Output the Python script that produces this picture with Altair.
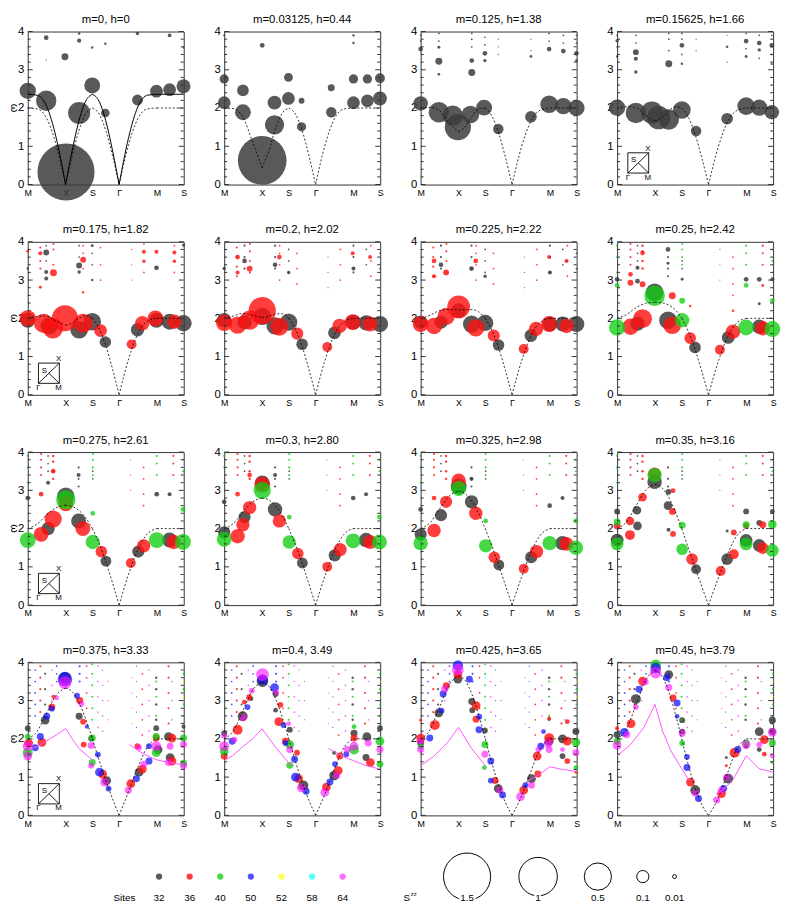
import altair as alt
import pandas as pd

FONT = "Liberation Sans"

# ---------------- axes ----------------
K_TICKS = [0.0, 1.414, 2.414, 3.414, 4.828, 5.828]
K_LABELS = ["M", "X", "S", "Γ", "M", "S"]
W_TICKS = [0, 1, 2, 3, 4]
W_MINOR = [0.2, 0.4, 0.6, 0.8, 1.2, 1.4, 1.6, 1.8, 2.2, 2.4, 2.6, 2.8, 3.2, 3.4, 3.6, 3.8]
Y_TITLE = "ω"

TITLES = ["m=0, h=0", "m=0.03125, h=0.44", "m=0.125, h=1.38", "m=0.15625, h=1.66",
          "m=0.175, h=1.82", "m=0.2, h=2.02", "m=0.225, h=2.22", "m=0.25, h=2.42",
          "m=0.275, h=2.61", "m=0.3, h=2.80", "m=0.325, h=2.98", "m=0.35, h=3.16",
          "m=0.375, h=3.33", "m=0.4, 3.49", "m=0.425, h=3.65", "m=0.45, h=3.79"]

SITES = [32, 36, 40, 50, 52, 58, 64]
SITE_COLORS = ["#3c3c3c", "#ff1010", "#10cc10", "#1010ff", "#ffff00", "#00ffff", "#ff10ff"]
SITE_ALPHA = [0.85, 0.62, 0.72, 0.62, 0.7, 0.7, 0.62]

SZZ_KEYS = [1.5, 1.0, 0.5, 0.1, 0.01]
SZZ_TEXT = ["1.5", "1", "0.5", "0.1", "0.01"]

# ---------------- spin-wave curves (dashed) ----------------
LSW_K = [0, 0.354, 0.707, 1.061, 1.414, 1.664, 1.914, 2.164, 2.414, 2.664, 2.914, 3.164,
         3.414, 3.768, 4.121, 4.475, 4.828, 5.828]
LSW_W = [
    [2, 1.979, 1.732, 1.041, 0, 0.765, 1.414, 1.848, 2, 1.848, 1.414, 0.765, 0, 1.041, 1.732, 1.979, 2, 2],
    [2, 1.983, 1.753, 1.112, 0.44, 0.870, 1.455, 1.861, 2, 1.841, 1.407, 0.760, 0, 1.035, 1.725, 1.976, 2, 2],
    [2, 2.018, 1.927, 1.609, 1.38, 1.509, 1.775, 1.979, 2, 1.786, 1.343, 0.720, 0, 0.982, 1.662, 1.948, 2, 2],
    [2, 2.036, 2.008, 1.807, 1.66, 1.742, 1.914, 2.035, 2, 1.757, 1.310, 0.699, 0, 0.954, 1.630, 1.935, 2, 2],
    [2, 2.047, 2.060, 1.925, 1.82, 1.878, 2.000, 2.071, 2, 1.738, 1.287, 0.685, 0, 0.936, 1.608, 1.926, 2, 2],
    [2, 2.063, 2.128, 2.077, 2.02, 2.052, 2.113, 2.120, 2, 1.712, 1.256, 0.665, 0, 0.910, 1.578, 1.913, 2, 2],
    [2, 2.080, 2.202, 2.233, 2.22, 2.228, 2.230, 2.172, 2, 1.683, 1.221, 0.642, 0, 0.881, 1.544, 1.899, 2, 2],
    [2, 2.099, 2.279, 2.391, 2.42, 2.406, 2.352, 2.228, 2, 1.650, 1.181, 0.616, 0, 0.847, 1.506, 1.884, 2, 2],
    [2, 2.118, 2.357, 2.545, 2.61, 2.577, 2.472, 2.284, 2, 1.615, 1.138, 0.588, 0, 0.811, 1.466, 1.868, 2, 2],
    [2, 2.138, 2.437, 2.700, 2.80, 2.748, 2.595, 2.343, 2, 1.577, 1.090, 0.556, 0, 0.771, 1.421, 1.851, 2, 2],
    [2, 2.158, 2.516, 2.848, 2.98, 2.912, 2.713, 2.401, 2, 1.538, 1.040, 0.523, 0, 0.727, 1.375, 1.833, 2, 2],
    [2, 2.179, 2.597, 2.998, 3.16, 3.076, 2.833, 2.461, 2, 1.494, 0.983, 0.484, 0, 0.678, 1.324, 1.814, 2, 2],
    [2, 2.201, 2.676, 3.140, 3.33, 3.231, 2.948, 2.520, 2, 1.450, 0.923, 0.442, 0, 0.626, 1.270, 1.795, 2, 2],
    [2, 2.221, 2.751, 3.275, 3.49, 3.378, 3.058, 2.577, 2, 1.405, 0.860, 0.397, 0, 0.569, 1.216, 1.776, 2, 2],
    [2, 2.243, 2.828, 3.410, 3.65, 3.525, 3.169, 2.635, 2, 1.356, 0.788, 0.342, 0, 0.502, 1.155, 1.756, 2, 2],
    [2, 2.262, 2.896, 3.529, 3.79, 3.654, 3.266, 2.687, 2, 1.310, 0.716, 0.284, 0, 0.433, 1.098, 1.738, 2, 2],
]
# solid (renormalised) curve of the first panel
RENORM_W = [2.36, 2.335, 2.044, 1.228, 0, 0.903, 1.669, 2.181, 2.36, 2.181, 1.669, 0.903, 0,
            1.228, 2.044, 2.335, 2.36, 2.36]

# magenta curves of the last row: segments of (k, omega)
MAG13 = [[(0, 1.72), (0.35, 1.8), (0.71, 1.95), (1.06, 2.1), (1.414, 2.27), (1.66, 2.0), (1.91, 1.75),
          (2.16, 1.6), (2.414, 1.45)],
         [(3.8, 1.85), (4.1, 1.7), (4.5, 1.55), (4.828, 1.45), (5.3, 1.38), (5.828, 1.32)]]
MAG14 = [[(0, 1.43), (0.3, 1.55), (0.7, 1.8), (1.06, 2.0), (1.414, 2.26), (1.9, 1.8), (2.414, 1.37),
          (2.6, 1.3)],
         [(3.9, 1.75), (4.4, 1.55), (4.828, 1.43), (5.3, 1.3), (5.828, 1.21)]]
MAG15 = [[(0, 1.3), (0.5, 1.55), (1.0, 1.9), (1.414, 2.3), (1.9, 1.75), (2.414, 1.3)],
         [(4.0, 0.9), (4.5, 1.1), (4.828, 1.27), (5.3, 1.2), (5.828, 1.15)]]
MAG16 = [[(0, 1.56), (0.5, 1.85), (1.0, 2.3), (1.414, 2.9), (1.7, 2.2), (2.0, 1.7), (2.414, 1.22),
          (2.7, 0.9)],
         [(3.7, 0.55), (4.0, 0.7), (4.3, 0.9), (4.828, 1.56), (5.3, 1.22), (5.828, 1.13)]]

# ---------------- bubbles: (k, omega, Szz, sites) ----------------
P01 = [(0.00, 2.45, 0.18, 32), (0.69, 2.19, 0.28, 32), (1.43, 0.33, 2.2, 32), (1.39, 3.34, 0.033, 32),
       (1.92, 1.87, 0.33, 32), (2.41, 2.59, 0.17, 32), (2.90, 1.87, 0.05, 32), (4.10, 2.21, 0.08, 32),
       (4.81, 2.44, 0.11, 32), (5.30, 2.48, 0.11, 32), (5.82, 2.57, 0.13, 32), (0.69, 3.84, 0.015, 32),
       (1.92, 3.76, 0.012, 32), (1.92, 3.95, 0.004, 32), (2.41, 3.58, 0.004, 32), (2.90, 3.68, 0.004, 32),
       (4.10, 3.95, 0.008, 32), (5.30, 3.90, 0.01, 32), (5.82, 3.58, 0.003, 32), (0.69, 3.25, 0.001, 32)]
P02 = [(0, 2.76, 0.058, 32), (0, 2.14, 0.11, 32), (0.70, 2.46, 0.093, 32), (0.70, 1.89, 0.17, 32),
       (1.42, 0.63, 1.6, 32), (1.42, 3.64, 0.015, 32), (1.88, 2.14, 0.13, 32), (1.88, 1.56, 0.25, 32),
       (2.40, 2.80, 0.052, 32), (2.40, 2.25, 0.11, 32), (2.89, 2.19, 0.023, 32), (2.89, 1.51, 0.058, 32),
       (4.00, 2.53, 0.033, 32), (4.00, 1.89, 0.074, 32), (4.83, 2.76, 0.058, 32), (4.83, 2.14, 0.11, 32),
       (5.35, 2.76, 0.058, 32), (5.35, 2.19, 0.11, 32), (5.82, 2.78, 0.066, 32), (5.82, 2.25, 0.13, 32),
       (4.83, 3.90, 0.004, 32), (4.83, 3.70, 0.004, 32), (0, 3.90, 0.003, 32)]
P03 = [(0, 2.12, 0.14, 32), (0.68, 1.89, 0.28, 32), (1.39, 1.50, 0.46, 32), (1.20, 1.80, 0.28, 32),
       (1.86, 1.83, 0.21, 32), (2.37, 2.01, 0.17, 32), (2.90, 1.45, 0.074, 32), (4.12, 1.77, 0.092, 32),
       (4.80, 2.10, 0.21, 32), (5.33, 2.05, 0.18, 32), (5.82, 2.00, 0.18, 32), (0, 3.54, 0.015, 32),
       (0.68, 3.22, 0.033, 32), (0.68, 3.59, 0.006, 32), (0.68, 2.88, 0.005, 32), (1.91, 2.93, 0.033, 32),
       (1.91, 3.24, 0.015, 32), (2.40, 3.43, 0.015, 32), (2.40, 3.24, 0.008, 32), (4.12, 3.35, 0.005, 32),
       (4.80, 3.54, 0.015, 32), (5.33, 3.49, 0.015, 32), (5.82, 3.43, 0.015, 32), (5.82, 3.24, 0.005, 32)]
P04 = [(0, 2.01, 0.18, 32), (0.70, 1.87, 0.28, 32), (1.30, 1.88, 0.33, 32), (1.55, 1.75, 0.37, 32),
       (1.93, 1.70, 0.28, 32), (2.42, 1.95, 0.21, 32), (2.95, 1.40, 0.074, 32), (4.11, 1.72, 0.092, 32),
       (4.82, 2.05, 0.21, 32), (5.31, 2.01, 0.18, 32), (5.78, 1.89, 0.14, 32), (0, 3.76, 0.008, 32),
       (0, 3.35, 0.004, 32), (0.70, 3.46, 0.023, 32), (0.70, 3.29, 0.011, 32), (0.70, 2.94, 0.008, 32),
       (1.93, 3.16, 0.033, 32), (2.42, 3.64, 0.015, 32), (2.42, 3.16, 0.004, 32), (4.11, 3.60, 0.004, 32),
       (4.82, 3.75, 0.015, 32), (4.82, 3.35, 0.006, 32), (5.31, 3.70, 0.015, 32), (5.31, 3.52, 0.008, 32),
       (5.78, 3.64, 0.015, 32), (5.78, 3.15, 0.003, 32)]
P05 = [(0, 1.95, 0.15, 32), (0, 2.0, 0.18, 36), (0.59, 1.87, 0.25, 36), (0.80, 1.80, 0.2, 32),
       (0.94, 1.74, 0.28, 36), (1.39, 2.0, 0.46, 36), (1.92, 1.70, 0.21, 32), (2.07, 1.87, 0.24, 36),
       (2.41, 1.91, 0.21, 32), (2.72, 1.68, 0.11, 36), (2.90, 1.38, 0.09, 32), (3.88, 1.32, 0.066, 36),
       (4.10, 1.70, 0.12, 32), (4.28, 1.87, 0.14, 36), (4.77, 2.0, 0.17, 36), (4.81, 1.95, 0.15, 32),
       (5.30, 1.91, 0.17, 32), (5.48, 1.91, 0.14, 36), (5.82, 1.87, 0.18, 32),
       (0.69, 3.72, 0.023, 32), (0.69, 3.21, 0.011, 32), (0.69, 3.04, 0.011, 32), (0.96, 3.19, 0.033, 36),
       (0.47, 3.70, 0.011, 36), (0.47, 2.81, 0.006, 36), (2.07, 3.53, 0.023, 36), (1.92, 3.38, 0.023, 32),
       (1.92, 3.21, 0.008, 32), (2.07, 2.68, 0.004, 36), (2.41, 3.90, 0.006, 32), (2.41, 3.0, 0.004, 32),
       (4.34, 3.74, 0.011, 36), (4.34, 3.49, 0.008, 36), (4.81, 3.32, 0.015, 32), (4.81, 3.74, 0.011, 36),
       (5.48, 3.72, 0.011, 36), (5.48, 3.49, 0.008, 36), (5.82, 3.91, 0.006, 32), (0, 3.3, 0.004, 32),
       (0, 3.75, 0.006, 36)]
P06 = [(0, 1.95, 0.14, 32), (0, 1.88, 0.18, 36), (0.5, 1.82, 0.2, 36), (0.76, 1.9, 0.14, 32),
       (0.95, 1.95, 0.25, 36), (1.42, 2.05, 0.2, 32), (1.42, 2.2, 0.5, 36), (1.9, 1.8, 0.2, 32),
       (2.06, 1.78, 0.22, 36), (2.41, 1.9, 0.2, 32), (2.73, 1.6, 0.1, 36), (2.91, 1.32, 0.09, 32),
       (3.85, 1.25, 0.066, 36), (4.12, 1.62, 0.11, 32), (4.31, 1.8, 0.14, 36), (4.8, 1.9, 0.17, 36),
       (4.83, 1.9, 0.15, 32), (5.31, 1.88, 0.16, 32), (5.45, 1.85, 0.15, 36), (5.82, 1.85, 0.18, 32),
       (0.5, 3.6, 0.015, 36), (0.5, 3.2, 0.011, 36), (0.76, 3.5, 0.015, 32), (0.95, 3.3, 0.023, 36),
       (1.9, 3.4, 0.015, 32), (2.06, 3.6, 0.015, 36), (2.41, 3.2, 0.008, 32), (4.83, 3.3, 0.011, 32),
       (4.8, 3.7, 0.011, 36), (5.45, 3.6, 0.011, 36), (0, 3.3, 0.008, 32)]
P07 = [(1.42, 2.3, 0.35, 36), (1.42, 2.2, 0.15, 32), (0, 1.85, 0.17, 36), (0, 1.9, 0.12, 32),
       (0.5, 1.8, 0.18, 36), (0.76, 1.9, 0.12, 32), (0.95, 2.05, 0.2, 36), (1.9, 1.85, 0.2, 32),
       (2.06, 1.75, 0.2, 36), (2.41, 1.88, 0.18, 32), (2.73, 1.55, 0.1, 36), (2.91, 1.3, 0.09, 32),
       (3.85, 1.2, 0.066, 36), (4.12, 1.55, 0.11, 32), (4.31, 1.72, 0.14, 36), (4.8, 1.85, 0.17, 36),
       (4.83, 1.85, 0.15, 32), (5.31, 1.85, 0.15, 32), (5.45, 1.8, 0.14, 36), (5.82, 1.85, 0.17, 32),
       (0.5, 3.5, 0.015, 36), (0.5, 3.1, 0.011, 36), (0.76, 3.4, 0.015, 32), (0.95, 3.2, 0.023, 36),
       (1.9, 3.3, 0.015, 32), (2.06, 3.5, 0.015, 36), (2.41, 3.1, 0.008, 32), (4.83, 3.2, 0.011, 32),
       (4.8, 3.6, 0.011, 36), (5.45, 3.5, 0.011, 36)]
P08 = [(0, 1.76, 0.18, 40), (0.50, 1.78, 0.18, 36), (0.76, 1.86, 0.14, 32), (0.95, 1.99, 0.24, 36),
       (1.40, 2.68, 0.21, 32), (1.40, 2.59, 0.28, 40), (1.90, 1.95, 0.21, 32), (2.06, 1.82, 0.21, 36),
       (2.43, 1.95, 0.14, 40), (2.73, 1.48, 0.092, 36), (2.91, 1.24, 0.092, 32), (3.84, 1.18, 0.066, 36),
       (4.15, 1.50, 0.11, 32), (4.33, 1.65, 0.14, 36), (4.82, 1.76, 0.17, 40), (5.31, 1.78, 0.14, 32),
       (5.44, 1.74, 0.14, 36), (5.80, 1.72, 0.17, 40),
       (0, 3.02, 0.015, 32), (0, 2.86, 0.015, 40), (0.5, 2.93, 0.023, 36), (0.5, 3.15, 0.015, 36),
       (0.76, 3.32, 0.011, 32), (0.76, 2.97, 0.015, 32), (0.95, 3.71, 0.015, 36), (0.95, 2.89, 0.023, 36),
       (1.9, 3.80, 0.015, 32), (1.9, 3.44, 0.006, 32), (2.06, 2.59, 0.033, 36), (2.43, 2.46, 0.023, 40),
       (2.43, 3.02, 0.006, 32), (2.73, 2.32, 0.004, 36), (4.33, 2.2, 0.004, 36), (4.82, 3.02, 0.015, 32),
       (4.82, 2.86, 0.015, 40), (5.31, 3.02, 0.015, 32), (5.31, 2.38, 0.006, 32), (5.44, 2.86, 0.006, 36),
       (5.8, 3.02, 0.011, 32), (5.8, 2.46, 0.015, 40)]
P09 = [(1.42, 2.85, 0.2, 32), (1.42, 2.65, 0.15, 36), (1.42, 2.75, 0.25, 40), (0, 1.7, 0.17, 40),
       (0.5, 1.85, 0.15, 36), (0.76, 2.0, 0.12, 32), (0.95, 2.25, 0.2, 36), (1.9, 2.2, 0.15, 32),
       (2.06, 2.0, 0.15, 36), (2.43, 1.65, 0.14, 40), (2.75, 1.4, 0.09, 36), (2.92, 1.15, 0.08, 32),
       (3.85, 1.1, 0.066, 36), (4.13, 1.4, 0.1, 32), (4.33, 1.55, 0.12, 36), (4.82, 1.7, 0.17, 40),
       (5.3, 1.7, 0.15, 32), (5.45, 1.65, 0.14, 36), (5.8, 1.65, 0.17, 40),
       (0, 2.8, 0.015, 32), (0.5, 2.9, 0.015, 36), (0.76, 3.2, 0.011, 32), (0.95, 3.5, 0.015, 36),
       (1.9, 3.4, 0.011, 32), (2.43, 2.4, 0.015, 40), (4.82, 2.9, 0.015, 32), (5.3, 2.9, 0.011, 32),
       (5.8, 2.5, 0.015, 40)]
P10 = [(1.42, 3.2, 0.14, 32), (1.42, 3.15, 0.17, 36), (1.42, 3.0, 0.2, 40), (0, 1.72, 0.15, 40),
       (0, 1.9, 0.1, 32), (0.5, 1.8, 0.14, 36), (0.7, 2.1, 0.12, 36), (0.76, 2.3, 0.1, 32),
       (0.95, 2.55, 0.12, 36), (1.9, 2.5, 0.14, 32), (2.06, 2.2, 0.12, 36), (2.43, 1.65, 0.12, 40),
       (2.75, 1.35, 0.09, 36), (2.92, 1.1, 0.08, 32), (3.85, 1.0, 0.066, 36), (4.13, 1.3, 0.1, 32),
       (4.33, 1.45, 0.12, 36), (4.82, 1.68, 0.15, 40), (5.3, 1.7, 0.14, 32), (5.45, 1.65, 0.13, 36),
       (5.8, 1.65, 0.15, 40),
       (0, 2.7, 0.015, 32), (0.5, 2.9, 0.015, 36), (0.95, 3.4, 0.015, 36), (1.9, 3.4, 0.011, 32),
       (2.43, 2.3, 0.015, 40), (4.82, 2.8, 0.015, 32), (5.3, 2.9, 0.011, 32), (5.8, 2.3, 0.015, 40)]
P11 = [(1.42, 3.1, 0.17, 32), (1.42, 3.25, 0.14, 36), (1.42, 3.05, 0.15, 40), (0, 1.62, 0.14, 40),
       (0, 1.85, 0.1, 32), (0.5, 1.95, 0.12, 36), (0.76, 2.35, 0.1, 32), (0.95, 2.7, 0.1, 36),
       (1.9, 2.7, 0.12, 32), (2.06, 2.4, 0.12, 36), (2.43, 1.55, 0.12, 40), (2.75, 1.25, 0.09, 36),
       (2.92, 1.05, 0.08, 32), (3.85, 0.95, 0.066, 36), (4.13, 1.25, 0.1, 32), (4.33, 1.4, 0.12, 36),
       (4.82, 1.62, 0.14, 40), (5.3, 1.62, 0.14, 32), (5.45, 1.6, 0.13, 36), (5.8, 1.5, 0.14, 40),
       (0, 2.5, 0.015, 32), (0.5, 2.8, 0.015, 36), (1.9, 3.3, 0.011, 32), (2.43, 2.2, 0.015, 40),
       (4.82, 2.6, 0.015, 32), (5.3, 2.8, 0.011, 32), (5.8, 2.2, 0.015, 40)]
P12 = [(0, 1.60, 0.11, 40), (0, 1.70, 0.11, 32), (0, 2.17, 0.033, 40), (0, 2.07, 0.033, 36),
       (0, 2.45, 0.023, 32), (0.48, 1.83, 0.066, 36), (0.48, 2.2, 0.05, 36), (0.76, 2.07, 0.05, 32),
       (0.74, 2.48, 0.05, 32), (0.95, 2.82, 0.05, 36), (1.40, 3.22, 0.14, 32), (1.40, 3.43, 0.11, 36),
       (1.40, 3.40, 0.14, 40), (1.90, 2.60, 0.05, 32), (1.92, 2.96, 0.023, 32), (2.07, 2.45, 0.033, 36),
       (2.09, 2.99, 0.015, 36), (1.92, 1.97, 0.011, 32), (2.09, 1.86, 0.023, 36), (2.43, 2.09, 0.033, 40),
       (2.43, 1.46, 0.092, 40), (2.80, 1.20, 0.092, 36), (2.95, 0.94, 0.066, 32), (3.87, 0.89, 0.066, 36),
       (4.11, 1.20, 0.092, 32), (4.36, 1.33, 0.066, 36), (4.36, 1.90, 0.023, 36), (4.11, 1.94, 0.006, 32),
       (4.82, 1.69, 0.11, 32), (4.82, 1.60, 0.11, 40), (4.82, 2.10, 0.033, 40), (4.82, 2.07, 0.023, 36),
       (4.82, 2.45, 0.023, 32), (5.31, 1.56, 0.11, 32), (5.44, 1.49, 0.092, 36), (5.44, 2.10, 0.033, 36),
       (5.31, 2.15, 0.023, 32), (5.80, 2.11, 0.05, 40), (5.80, 1.43, 0.11, 40), (5.80, 2.45, 0.015, 32)]
P13 = [(0, 1.81, 0.066, 64), (0, 1.64, 0.066, 40), (0.03, 1.89, 0.052, 36), (0, 2.28, 0.023, 32),
       (0, 1.55, 0.052, 64), (0, 2.06, 0.023, 40), (0.28, 1.77, 0.033, 50), (0.53, 1.91, 0.052, 36),
       (0.47, 2.06, 0.033, 50), (0.65, 2.49, 0.05, 32), (0.71, 2.59, 0.033, 50), (0.90, 2.83, 0.033, 36),
       (0.90, 2.79, 0.023, 50), (0.96, 3.10, 0.011, 36), (1.08, 3.07, 0.015, 64), (1.39, 3.56, 0.14, 50),
       (1.39, 3.47, 0.11, 64), (1.39, 3.60, 0.092, 32), (1.94, 3.00, 0.033, 36), (2.0, 2.92, 0.023, 64),
       (1.84, 3.13, 0.023, 50), (1.92, 2.59, 0.033, 32), (2.07, 2.45, 0.023, 36), (2.21, 2.32, 0.011, 50),
       (2.37, 1.83, 0.033, 64), (2.41, 2.02, 0.033, 40), (2.37, 2.01, 0.023, 32), (2.09, 1.85, 0.023, 36),
       (2.62, 1.59, 0.023, 50), (2.41, 1.38, 0.033, 40), (2.37, 1.30, 0.023, 64), (2.68, 1.13, 0.052, 50),
       (2.80, 1.08, 0.052, 36), (2.87, 0.87, 0.052, 64), (2.95, 0.91, 0.052, 32), (3.02, 0.70, 0.023, 50),
       (3.85, 0.83, 0.052, 36), (3.76, 0.66, 0.033, 64), (4.06, 0.96, 0.033, 50), (4.16, 1.13, 0.052, 32),
       (4.28, 1.21, 0.052, 36), (4.34, 1.34, 0.033, 64), (4.53, 1.42, 0.033, 50), (4.10, 1.81, 0.023, 36),
       (4.16, 1.77, 0.023, 64), (4.53, 1.81, 0.023, 50), (4.80, 2.28, 0.023, 32), (4.80, 2.02, 0.033, 36),
       (4.80, 2.06, 0.033, 40), (4.80, 1.81, 0.066, 64), (4.80, 1.64, 0.052, 40), (4.87, 1.72, 0.052, 32),
       (5.26, 2.06, 0.052, 32), (5.39, 2.02, 0.052, 36), (5.32, 1.81, 0.033, 64), (5.32, 1.51, 0.052, 32),
       (5.39, 1.42, 0.052, 36), (5.26, 1.38, 0.033, 64), (5.82, 2.02, 0.033, 40), (5.82, 1.85, 0.033, 64),
       (5.82, 1.36, 0.033, 40), (5.82, 1.30, 0.033, 64), (5.82, 2.32, 0.011, 32)]
P14 = [(0, 1.81, 0.066, 64), (0, 1.55, 0.033, 36), (0, 1.68, 0.052, 40), (0, 2.15, 0.023, 32),
       (0, 2.08, 0.023, 64), (0.30, 1.94, 0.033, 50), (0.38, 1.98, 0.023, 64), (0.50, 2.24, 0.066, 36),
       (0.69, 2.59, 0.066, 32), (0.71, 2.55, 0.033, 64), (0.87, 2.83, 0.023, 50), (0.93, 3.09, 0.023, 36),
       (1.03, 3.26, 0.023, 64), (1.00, 3.05, 0.015, 32), (0.75, 2.96, 0.015, 36), (1.43, 3.68, 0.11, 64),
       (1.43, 3.51, 0.092, 32), (1.43, 3.55, 0.074, 50), (1.88, 3.34, 0.052, 50), (1.94, 3.22, 0.023, 64),
       (1.92, 3.17, 0.023, 32), (2.10, 2.89, 0.023, 36), (1.92, 2.75, 0.015, 32), (2.04, 2.45, 0.052, 36),
       (2.22, 2.36, 0.023, 50), (2.41, 2.40, 0.015, 64), (2.45, 2.24, 0.023, 32), (2.29, 1.94, 0.033, 36),
       (2.29, 1.89, 0.023, 50), (2.45, 1.85, 0.052, 40), (2.45, 1.72, 0.033, 64), (2.63, 1.47, 0.033, 50),
       (2.72, 1.64, 0.023, 36), (2.45, 1.31, 0.033, 40), (2.66, 1.00, 0.052, 50), (2.78, 0.96, 0.052, 36),
       (2.96, 0.78, 0.066, 32), (2.88, 0.72, 0.052, 64), (3.06, 0.63, 0.033, 50), (3.82, 0.74, 0.052, 36),
       (3.76, 0.60, 0.052, 64), (3.95, 0.87, 0.033, 50), (4.11, 1.04, 0.066, 32), (4.26, 1.17, 0.052, 36),
       (4.20, 1.04, 0.033, 64), (4.14, 1.34, 0.023, 50), (4.32, 1.55, 0.033, 36), (4.56, 1.60, 0.023, 50),
       (4.11, 1.64, 0.011, 32), (4.60, 1.72, 0.033, 64), (4.85, 1.72, 0.066, 40), (4.85, 1.81, 0.052, 64),
       (4.85, 2.15, 0.033, 32), (4.85, 2.02, 0.033, 36), (4.85, 2.32, 0.015, 40), (5.33, 2.06, 0.052, 32),
       (5.46, 1.38, 0.052, 36), (5.30, 1.51, 0.033, 32), (5.38, 1.89, 0.033, 64), (5.82, 1.94, 0.052, 40),
       (5.82, 2.28, 0.023, 32), (5.82, 1.72, 0.033, 64), (5.82, 1.34, 0.033, 40)]
P15 = [(0, 2.02, 0.052, 36), (0, 1.94, 0.033, 64), (0, 1.89, 0.033, 32), (0, 1.81, 0.023, 40),
       (0, 1.72, 0.033, 64), (0, 2.49, 0.006, 36), (0.34, 2.02, 0.033, 50), (0.53, 2.36, 0.066, 36),
       (0.68, 2.68, 0.052, 32), (0.78, 2.74, 0.023, 50), (0.84, 3.17, 0.033, 50), (0.90, 3.30, 0.033, 64),
       (0.96, 3.39, 0.033, 36), (1.39, 3.81, 0.092, 64), (1.39, 3.92, 0.074, 50), (1.39, 3.56, 0.052, 32),
       (1.39, 3.68, 0.052, 36), (1.82, 3.56, 0.033, 50), (1.91, 2.98, 0.033, 32), (2.07, 2.87, 0.052, 36),
       (1.93, 2.75, 0.023, 32), (2.07, 2.51, 0.033, 36), (2.19, 2.58, 0.023, 50), (2.18, 2.24, 0.033, 50),
       (2.40, 2.22, 0.023, 32), (2.40, 1.85, 0.033, 40), (2.40, 1.60, 0.033, 64), (2.62, 1.42, 0.033, 50),
       (2.38, 1.25, 0.015, 40), (2.62, 0.91, 0.023, 50), (2.78, 0.91, 0.033, 36), (2.90, 0.70, 0.052, 32),
       (2.96, 0.66, 0.033, 64), (3.06, 0.53, 0.033, 50), (3.73, 0.49, 0.052, 64), (3.85, 0.66, 0.052, 36),
       (3.91, 0.79, 0.023, 50), (4.14, 0.96, 0.052, 32), (4.38, 1.08, 0.033, 36), (4.14, 0.79, 0.033, 64),
       (4.35, 1.55, 0.052, 36), (4.49, 1.81, 0.033, 50), (4.40, 1.72, 0.023, 64), (4.59, 2.19, 0.015, 50),
       (4.80, 2.02, 0.066, 36), (4.80, 1.94, 0.052, 32), (4.80, 1.72, 0.033, 64), (4.77, 1.89, 0.052, 64),
       (4.80, 2.53, 0.011, 36), (5.30, 2.00, 0.052, 32), (5.48, 1.94, 0.052, 36), (5.30, 1.55, 0.023, 32),
       (5.48, 1.42, 0.023, 36), (5.30, 1.72, 0.015, 64), (5.48, 2.45, 0.015, 36), (5.80, 2.19, 0.033, 32),
       (5.80, 1.91, 0.052, 40), (5.80, 1.25, 0.015, 40), (5.80, 1.64, 0.033, 64), (5.80, 1.13, 0.006, 36)]
P16 = [(0, 2.11, 0.033, 32), (0, 1.94, 0.033, 40), (0, 1.83, 0.052, 64), (0, 2.28, 0.011, 36),
       (0.27, 2.17, 0.052, 50), (0.36, 2.11, 0.033, 64), (0.52, 2.40, 0.052, 36), (0.70, 3.04, 0.066, 32),
       (0.70, 2.83, 0.023, 64), (0.82, 3.30, 0.033, 50), (0.95, 3.51, 0.052, 36), (1.05, 3.49, 0.033, 64),
       (1.44, 3.94, 0.074, 40), (1.44, 3.73, 0.092, 64), (1.44, 3.85, 0.074, 50), (1.93, 3.68, 0.052, 32),
       (1.85, 3.60, 0.033, 50), (1.93, 3.34, 0.033, 64), (2.09, 3.07, 0.033, 36), (2.24, 2.94, 0.033, 50),
       (2.24, 2.59, 0.015, 50), (2.43, 2.49, 0.023, 32), (2.43, 2.19, 0.023, 32), (2.43, 2.15, 0.033, 64),
       (2.43, 1.89, 0.023, 40), (2.61, 1.53, 0.023, 50), (2.61, 1.25, 0.033, 50), (2.74, 0.87, 0.052, 36),
       (2.92, 0.66, 0.066, 32), (2.92, 0.58, 0.033, 64), (3.04, 0.44, 0.033, 50), (3.72, 0.40, 0.033, 64),
       (3.90, 0.57, 0.052, 36), (3.98, 0.70, 0.033, 50), (4.10, 1.00, 0.033, 64), (4.15, 0.96, 0.066, 32),
       (3.90, 0.66, 0.033, 64), (4.08, 1.51, 0.006, 32), (4.08, 1.30, 0.006, 36), (4.39, 1.64, 0.066, 36),
       (4.51, 1.72, 0.033, 50), (4.82, 1.81, 0.015, 32), (4.82, 1.89, 0.033, 40), (4.82, 1.85, 0.052, 64),
       (5.31, 2.19, 0.052, 32), (5.50, 1.98, 0.052, 36), (5.31, 1.85, 0.023, 64), (5.50, 1.60, 0.015, 36),
       (5.31, 1.72, 0.015, 32), (5.80, 2.49, 0.033, 32), (5.80, 2.19, 0.033, 32), (5.80, 2.17, 0.052, 64),
       (5.80, 1.89, 0.033, 40), (5.80, 1.55, 0.015, 64), (5.80, 1.38, 0.006, 40)]

# faint high-energy columns: (k, sites, Szz, [omega, ...])
R03 = [(0.0, 32, 0.002, [3.75, 3.9]), (0.68, 32, 0.002, [3.75, 3.95]), (1.91, 32, 0.002, [3.6, 3.8, 3.95]),
       (2.4, 32, 0.002, [3.65, 3.85]), (2.9, 32, 0.001, [3.4, 3.6, 3.8]), (4.12, 32, 0.001, [3.5, 3.8]),
       (4.8, 32, 0.002, [3.75, 3.95]), (5.33, 32, 0.002, [3.7, 3.9]), (5.82, 32, 0.002, [3.7, 3.9])]
R04 = [(0.0, 32, 0.002, [3.6, 3.9]), (0.70, 32, 0.002, [3.7, 3.9]), (1.93, 32, 0.002, [3.5, 3.8, 3.95]),
       (2.42, 32, 0.002, [3.4, 3.8, 3.95]), (2.95, 32, 0.001, [3.5, 3.8]), (4.11, 32, 0.001, [3.2, 3.9]),
       (4.82, 32, 0.002, [3.55, 3.95]), (5.31, 32, 0.002, [3.3, 3.9]), (5.78, 32, 0.002, [3.4, 3.9])]
R05 = [(0.47, 36, 0.003, [3.3, 3.5, 3.85]), (0.96, 36, 0.003, [3.4, 3.8, 3.95]), (2.07, 36, 0.002, [3.3, 3.7, 3.9]),
       (2.72, 36, 0.002, [3.0, 3.4, 3.85]), (3.88, 36, 0.001, [3.0, 3.4, 3.8]), (4.34, 36, 0.002, [3.2, 3.95]),
       (5.48, 36, 0.002, [3.2, 3.9]), (0.69, 32, 0.002, [3.5, 3.9]), (1.92, 32, 0.002, [3.6, 3.9]),
       (2.41, 32, 0.002, [3.4, 3.7])]
R06 = [(0.47, 36, 0.003, [3.1, 3.35, 3.6, 3.85]), (0.96, 36, 0.003, [3.2, 3.5, 3.75, 3.95]),
       (2.07, 36, 0.002, [3.0, 3.4, 3.7, 3.9]), (2.72, 36, 0.002, [2.9, 3.3, 3.7]), (3.88, 36, 0.001, [2.8, 3.2, 3.6]),
       (4.34, 36, 0.002, [3.0, 3.4, 3.8]), (5.48, 36, 0.002, [3.1, 3.5, 3.9]), (0.76, 32, 0.003, [3.3, 3.6, 3.9]),
       (1.9, 32, 0.003, [3.3, 3.6, 3.9]), (2.41, 32, 0.002, [3.2, 3.5, 3.8]), (4.83, 32, 0.003, [3.2, 3.6, 3.9]),
       (5.31, 32, 0.002, [3.4, 3.8]), (5.82, 32, 0.002, [3.3, 3.7])]
R07 = R06
R08 = [(0.5, 36, 0.003, [3.4, 3.6, 3.8, 3.95]), (0.95, 36, 0.004, [3.3, 3.5, 3.75, 3.9]),
       (0.76, 32, 0.002, [3.5, 3.7, 3.9]), (1.9, 32, 0.003, [3.1, 3.3, 3.6]), (2.43, 40, 0.003, [3.4, 3.6, 3.8, 3.95]),
       (2.43, 32, 0.002, [3.3, 3.5]), (4.33, 36, 0.002, [2.6, 2.9, 3.3, 3.6]), (4.82, 40, 0.003, [3.4, 3.7, 3.9]),
       (5.44, 36, 0.003, [3.4, 3.7, 3.9]), (5.8, 40, 0.003, [3.5, 3.8]), (3.84, 36, 0.001, [3.0, 3.4, 3.8]),
       (0, 40, 0.003, [3.2, 3.6, 3.9])]
R09 = R08
R10 = R08
R11 = R08
R12 = R08
R13 = [(0.28, 50, 0.002, [2.6, 2.9, 3.2, 3.5, 3.8]), (0.47, 36, 0.003, [2.7, 3.0, 3.3, 3.6, 3.9]),
       (0.65, 32, 0.003, [2.9, 3.3, 3.7]), (0.9, 64, 0.002, [3.0, 3.4, 3.8]), (1.08, 50, 0.002, [3.5, 3.7, 3.9]),
       (1.94, 50, 0.003, [3.5, 3.7, 3.9]), (2.2, 36, 0.002, [2.8, 3.2, 3.6, 3.9]),
       (2.41, 40, 0.003, [2.5, 2.8, 3.1, 3.4, 3.7, 3.95]), (2.62, 64, 0.002, [2.3, 2.7, 3.1, 3.5, 3.9]),
       (2.8, 50, 0.001, [2.2, 2.6, 3.0, 3.4, 3.8]), (3.0, 36, 0.001, [2.5, 3.0, 3.5]),
       (3.9, 64, 0.001, [2.4, 2.8, 3.2, 3.6]), (4.06, 50, 0.001, [2.3, 2.7, 3.1, 3.5, 3.9]),
       (4.28, 36, 0.002, [2.1, 2.5, 2.9, 3.3, 3.7]), (4.53, 64, 0.002, [2.2, 2.6, 3.0, 3.4, 3.8]),
       (4.8, 32, 0.004, [2.5, 2.9, 3.3, 3.6]), (4.8, 40, 0.003, [2.6, 3.1, 3.5]),
       (5.26, 36, 0.003, [2.4, 2.8, 3.2, 3.6, 3.9]), (5.39, 64, 0.002, [2.5, 3.0, 3.5]),
       (5.82, 40, 0.003, [2.4, 2.6, 2.9, 3.3, 3.7]), (5.82, 52, 0.002, [3.1, 3.5]), (2.41, 58, 0.001, [3.0, 3.6]),
       (1.08, 52, 0.001, [3.3])]
R14 = R13
R15 = R13
R16 = R13

PANELS = [P01, P02, P03, P04, P05, P06, P07, P08, P09, P10, P11, P12, P13, P14, P15, P16]
RAINS = [[], [], R03, R04, R05, R06, R07, R08, R09, R10, R11, R12, R13, R14, R15, R16]
MAGS = {12: MAG13, 13: MAG14, 14: MAG15, 15: MAG16}
INSET_PANELS = [3, 4, 8, 12]

# ---------------- layout / style ----------------
W, H = 158, 155
KMAX = 5.828
SEGMENTS = [(0, 4), (4, 8), (8, 12), (12, 16), (16, 17)]
INSET_BOX = (0.40, 0.30, 1.18, 0.83)

XS = alt.Scale(domain=[0, KMAX], nice=False, zero=False)
YS = alt.Scale(domain=[0, 4], nice=False, zero=False)
SIZE_SCALE = alt.Scale(type="linear", domain=[0, 1], range=[0, 1520])
COLOR_SCALE = alt.Scale(domain=SITES, range=SITE_COLORS)
OPAC_SCALE = alt.Scale(domain=SITES, range=SITE_ALPHA)


def label_expr():
    mids = [(K_TICKS[j] + K_TICKS[j + 1]) / 2 for j in range(len(K_TICKS) - 1)]
    expr = "'" + K_LABELS[-1] + "'"
    for j in range(len(mids) - 1, -1, -1):
        expr = "datum.value < %.3f ? '%s' : %s" % (mids[j], K_LABELS[j], expr)
    return expr


XAX = alt.Axis(values=K_TICKS, labelExpr=label_expr(), ticks=False, domain=False, grid=False,
               labelFontSize=9, labelPadding=4, labelFlush=False, labelOverlap=False,
               labelColor="black", labelFont=FONT, title=None)
YAX = alt.Axis(values=W_TICKS, ticks=False, domain=False, grid=False, labelFontSize=11.5,
               labelPadding=4, labelColor="black", labelFont=FONT, title=None)


def curve_df(values):
    rows = []
    for si, (a, b) in enumerate(SEGMENTS):
        for j in range(a, b + 1):
            rows.append({"k": LSW_K[j], "w": values[j], "seg": si})
    return pd.DataFrame(rows)


def make_panel(i):
    X = alt.X("k:Q", scale=XS, axis=XAX)
    Y = alt.Y("w:Q", scale=YS, axis=YAX)
    rows = [{"k": k, "w": w, "s": s, "site": st} for (k, w, s, st) in PANELS[i]]
    for k, st, s, ws in RAINS[i]:
        for w in ws:
            rows.append({"k": k, "w": w, "s": s, "site": st})
    dfb = pd.DataFrame(rows).sort_values(["site", "s"], ascending=[True, False]).reset_index(drop=True)
    dfb["z"] = range(len(dfb))
    layers = []
    layers.append(alt.Chart(dfb).mark_circle().encode(
        x=X, y=Y,
        size=alt.Size("s:Q", scale=SIZE_SCALE, legend=None),
        color=alt.Color("site:N", scale=COLOR_SCALE, legend=None),
        opacity=alt.Opacity("site:N", scale=OPAC_SCALE, legend=None),
        order=alt.Order("z:Q")))
    if i == 0:
        layers.append(alt.Chart(curve_df(RENORM_W)).mark_line(
            color="black", strokeWidth=1, interpolate="monotone").encode(x=X, y=Y, detail="seg:N"))
    layers.append(alt.Chart(curve_df(LSW_W[i])).mark_line(
        color="black", strokeWidth=0.8, strokeDash=[2, 2], interpolate="monotone").encode(
        x=X, y=Y, detail="seg:N"))
    if i in MAGS:
        mrows = []
        for si, seg in enumerate(MAGS[i]):
            for k, w in seg:
                mrows.append({"k": k, "w": w, "seg": si})
        layers.append(alt.Chart(pd.DataFrame(mrows)).mark_line(
            color="#ff55ff", strokeWidth=1).encode(x=X, y=Y, detail="seg:N"))
    # inward ticks
    dmaj = pd.DataFrame({"w": W_TICKS})
    dmin = pd.DataFrame({"w": W_MINOR})
    for d, ln in ((dmaj, 5), (dmin, 3)):
        layers.append(alt.Chart(d).mark_rule(color="#333333", strokeWidth=1).encode(
            y=Y, x=alt.value(0), x2=alt.value(ln)))
        layers.append(alt.Chart(d).mark_rule(color="#333333", strokeWidth=1).encode(
            y=Y, x=alt.value(W - ln), x2=alt.value(W)))
    if i in INSET_PANELS:
        x0, y0, x1, y1 = INSET_BOX
        xm, ym = (x0 + x1) / 2, (y0 + y1) / 2
        segs = pd.DataFrame([
            {"k": x0, "w": y0, "k2": x1, "w2": y0}, {"k": x0, "w": y1, "k2": x1, "w2": y1},
            {"k": x0, "w": y0, "k2": x0, "w2": y1}, {"k": x1, "w": y0, "k2": x1, "w2": y1},
            {"k": x0, "w": y0, "k2": x1, "w2": y1}, {"k": xm, "w": ym, "k2": x1, "w2": y0}])
        layers.append(alt.Chart(segs).mark_rule(color="black", strokeWidth=0.9).encode(
            x=X, y=Y, x2="k2:Q", y2="w2:Q"))
        labs = pd.DataFrame([
            {"k": x1 - 0.03, "w": y1 + 0.11, "t": "X"}, {"k": xm - 0.17, "w": ym + 0.07, "t": "S"},
            {"k": x0, "w": y0 - 0.12, "t": "Γ"}, {"k": x1 - 0.03, "w": y0 - 0.12, "t": "M"}])
        layers.append(alt.Chart(labs).mark_text(fontSize=8, font=FONT, color="black").encode(
            x=X, y=Y, text="t:N"))
    if i % 4 == 0:
        # rotated omega axis title
        layers.append(alt.Chart(pd.DataFrame({"t": [Y_TITLE]})).mark_text(
            fontSize=11, font=FONT, color="black", angle=90, align="center", baseline="middle").encode(
            x=alt.value(-14), y=alt.value(H / 2), text="t:N"))
    return alt.layer(*layers).properties(
        width=W, height=H,
        title=alt.TitleParams(TITLES[i], fontSize=11.5, fontWeight="normal", font=FONT, offset=0,
                              color="black"))


# ---------------- bottom legend ----------------
def make_legend():
    LX = alt.Scale(domain=[0, W], nice=False, zero=False)
    site_x = [133 + 31 * j for j in range(len(SITES))]
    radii = [22.0 * (v ** 0.5) for v in SZZ_KEYS]
    cx = [445.0]
    for j in range(1, len(SZZ_KEYS)):
        cx.append(cx[-1] + radii[j - 1] + 23 + radii[j])
    dots = pd.DataFrame({"px": site_x, "site": SITES, "lab": [str(s) for s in SITES]})
    rings = pd.DataFrame({"px": cx, "s": SZZ_KEYS, "lab": SZZ_TEXT})
    Xp = alt.X("px:Q", scale=LX, axis=None)
    ly = 4
    ty = 26
    layers = [
        alt.Chart(dots).mark_circle(size=40).encode(
            x=Xp, y=alt.value(ly),
            color=alt.Color("site:N", scale=COLOR_SCALE, legend=None),
            opacity=alt.Opacity("site:N", scale=OPAC_SCALE, legend=None)),
        alt.Chart(dots).mark_text(fontSize=10, font=FONT, color="black").encode(
            x=Xp, y=alt.value(ty), text="lab:N"),
        alt.Chart(pd.DataFrame({"px": [109], "lab": ["Sites"]})).mark_text(
            fontSize=10, font=FONT, color="black", align="right").encode(
            x=Xp, y=alt.value(ty), text="lab:N"),
        alt.Chart(rings).mark_point(shape="circle", filled=False, color="black", strokeWidth=1,
                                    opacity=1).encode(
            x=Xp, y=alt.value(ly), size=alt.Size("s:Q", scale=SIZE_SCALE, legend=None)),
        alt.Chart(rings).mark_text(fontSize=10, font=FONT, color="white", stroke="white",
                                   strokeWidth=4).encode(x=Xp, y=alt.value(ty), text="lab:N"),
        alt.Chart(rings).mark_text(fontSize=10, font=FONT, color="black").encode(
            x=Xp, y=alt.value(ty), text="lab:N"),
        alt.Chart(pd.DataFrame({"px": [384], "lab": ["S"]})).mark_text(
            fontSize=10, font=FONT, color="black").encode(x=Xp, y=alt.value(ty), text="lab:N"),
        alt.Chart(pd.DataFrame({"px": [391], "lab": ["zz"]})).mark_text(
            fontSize=6, font=FONT, color="black").encode(x=Xp, y=alt.value(ty - 4), text="lab:N"),
    ]
    return alt.layer(*layers).properties(width=W, height=30,
                                         view=alt.ViewBackground(strokeOpacity=0))


panels = [make_panel(i) for i in range(16)]
chart = alt.concat(*panels, make_legend(), columns=4, spacing={"row": 58, "column": 41},
                   bounds="flush").properties(padding=0).configure_view(
    stroke="#333333", strokeWidth=1)

chart.save("out.html", embed_options={"renderer": "svg", "actions": False})
